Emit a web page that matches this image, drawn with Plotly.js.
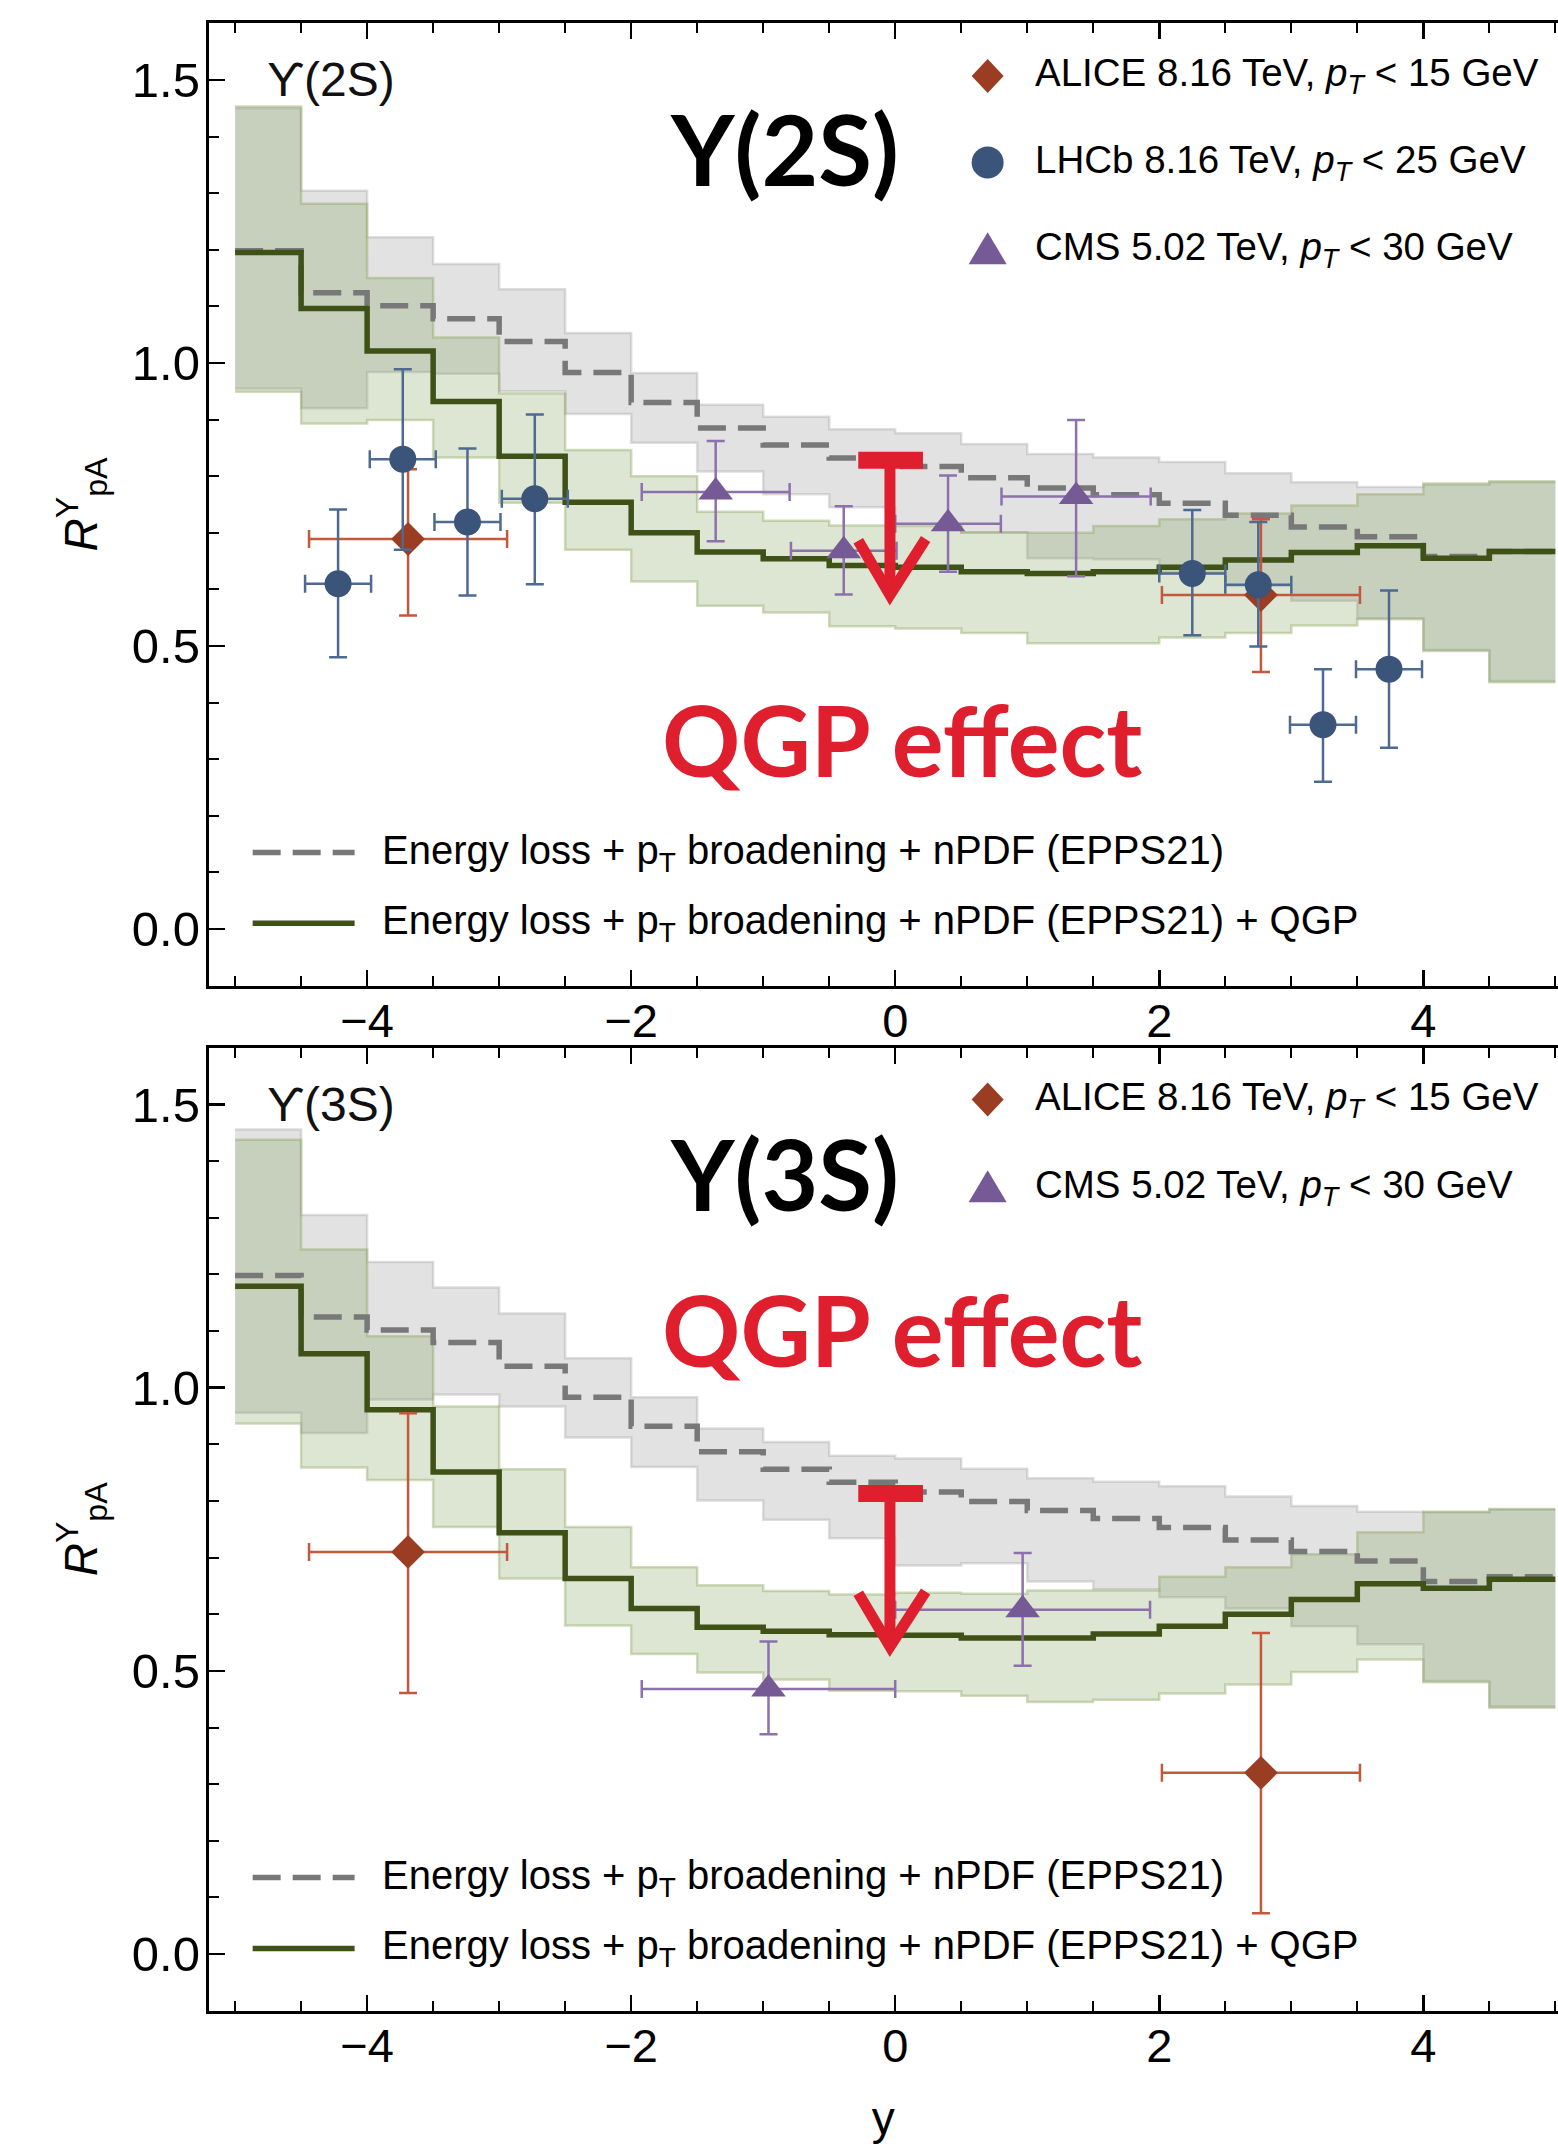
<!DOCTYPE html>
<html>
<head>
<meta charset="utf-8">
<script src="https://cdn.plot.ly/plotly-3.0.1.min.js"></script>
<style>
html,body{margin:0;padding:0;background:#fff;}
#chart{width:1558px;height:2144px;}
</style>
</head>
<body>
<div id="chart"></div>
<script>
// ---------------- DATA ----------------
// rapidity bin edges (0.5 wide)
const binEdges = [-5,-4.5,-4,-3.5,-3,-2.5,-2,-1.5,-1,-0.5,0,0.5,1,1.5,2,2.5,3,3.5,4,4.5,5];

// Upsilon(2S): Energy loss + pT broadening + nPDF (EPPS21)
const u2_base    = [1.198,1.124,1.101,1.078,1.038,0.983,0.930,0.885,0.855,0.832,0.817,0.797,0.779,0.767,0.752,0.731,0.710,0.693,0.658,0.667];
const u2_base_hi = [1.450,1.304,1.222,1.175,1.130,1.053,0.982,0.926,0.905,0.883,0.876,0.857,0.839,0.833,0.825,0.805,0.789,0.781,0.785,0.789];
const u2_base_lo = [0.955,0.920,0.984,0.981,0.950,0.910,0.859,0.808,0.768,0.745,0.715,0.700,0.655,0.653,0.630,0.606,0.580,0.549,0.493,0.438];
// Upsilon(2S): ... + QGP
const u2_qgp     = [1.195,1.096,1.021,0.932,0.835,0.754,0.700,0.666,0.654,0.642,0.639,0.631,0.628,0.631,0.639,0.652,0.665,0.677,0.655,0.667];
const u2_qgp_hi  = [1.453,1.281,1.150,1.045,0.946,0.846,0.800,0.737,0.721,0.713,0.712,0.701,0.700,0.712,0.724,0.734,0.748,0.768,0.787,0.791];
const u2_qgp_lo  = [0.949,0.893,0.899,0.833,0.753,0.670,0.614,0.571,0.559,0.535,0.531,0.523,0.505,0.505,0.515,0.523,0.536,0.547,0.491,0.436];

// Upsilon(3S): Energy loss + pT broadening + nPDF (EPPS21)
const u3_base    = [1.198,1.125,1.102,1.080,1.038,0.983,0.932,0.887,0.856,0.833,0.816,0.799,0.783,0.769,0.753,0.731,0.711,0.694,0.658,0.666];
const u3_base_hi = [1.456,1.305,1.222,1.177,1.131,1.052,0.983,0.928,0.904,0.880,0.875,0.857,0.840,0.834,0.826,0.808,0.791,0.781,0.780,0.785];
const u3_base_lo = [0.956,0.920,0.979,0.988,0.967,0.912,0.860,0.801,0.767,0.734,0.686,0.690,0.658,0.644,0.630,0.610,0.579,0.547,0.482,0.437];
// Upsilon(3S): ... + QGP
const u3_qgp     = [1.179,1.060,0.961,0.851,0.744,0.663,0.610,0.577,0.570,0.564,0.563,0.558,0.558,0.565,0.579,0.600,0.626,0.654,0.646,0.662];
const u3_qgp_hi  = [1.438,1.244,1.091,0.967,0.856,0.754,0.683,0.651,0.641,0.635,0.638,0.636,0.642,0.642,0.666,0.683,0.706,0.745,0.781,0.786];
const u3_qgp_lo  = [0.937,0.859,0.837,0.754,0.663,0.580,0.530,0.497,0.485,0.465,0.464,0.456,0.445,0.449,0.460,0.476,0.498,0.520,0.480,0.435];

// Data points, Upsilon(2S)
const alice2_x = [-3.69, 2.77];
const alice2_y = [0.689, 0.590];
const alice2_xerr = [0.75, 0.75];
const alice2_yerr_up = [0.123, 0.134];
const alice2_yerr_dn = [0.135, 0.136];

const lhcb2_x = [-4.22, -3.73, -3.24, -2.73, 2.25, 2.75, 3.24, 3.74];
const lhcb2_y = [0.610, 0.830, 0.719, 0.760, 0.628, 0.608, 0.361, 0.459];
const lhcb2_xerr = [0.25, 0.25, 0.25, 0.25, 0.25, 0.25, 0.25, 0.25];
const lhcb2_yerr_up = [0.131, 0.159, 0.130, 0.149, 0.112, 0.111, 0.098, 0.139];
const lhcb2_yerr_dn = [0.130, 0.160, 0.130, 0.151, 0.109, 0.109, 0.101, 0.139];

const cms2_x = [-1.36, -0.39, 0.40, 1.37];
const cms2_y = [0.772, 0.668, 0.716, 0.764];
const cms2_xerr = [0.56, 0.40, 0.40, 0.565];
const cms2_yerr_up = [0.090, 0.079, 0.085, 0.135];
const cms2_yerr_dn = [0.087, 0.077, 0.085, 0.141];

// Data points, Upsilon(3S)
const alice3_x = [-3.69, 2.77];
const alice3_y = [0.710, 0.320];
const alice3_xerr = [0.75, 0.75];
const alice3_yerr_up = [0.245, 0.247];
const alice3_yerr_dn = [0.249, 0.248];

const cms3_x = [-0.96, 0.965];
const cms3_y = [0.468, 0.608];
const cms3_xerr = [0.96, 0.965];
const cms3_yerr_up = [0.084, 0.100];
const cms3_yerr_dn = [0.080, 0.099];

// Labels
const legendAlice = 'ALICE 8.16 TeV, <i>p</i><sub><i>T</i></sub> &lt; 15 GeV';
const legendLhcb  = 'LHCb 8.16 TeV, <i>p</i><sub><i>T</i></sub> &lt; 25 GeV';
const legendCms   = 'CMS 5.02 TeV, <i>p</i><sub><i>T</i></sub> &lt; 30 GeV';
const legendBase  = 'Energy loss + p<sub>T</sub> broadening + nPDF (EPPS21)';
const legendQgp   = 'Energy loss + p<sub>T</sub> broadening + nPDF (EPPS21) + QGP';
const xTickVals = [-4, -2, 0, 2, 4];
const yTickVals = [0, 0.5, 1.0, 1.5];

// ---------------- STYLE ----------------
const C = {
  alice:'#9b3d23', aliceErr:'#c2583c',
  lhcb:'#3b5479', lhcbErr:'#4e6a90',
  cms:'#765a96', cmsErr:'#8c71ad',
  grayFill:'rgba(160,160,160,0.30)', grayEdge:'rgba(150,150,150,0.30)',
  greenFill:'rgba(120,150,80,0.25)', greenEdge:'rgba(140,165,90,0.40)',
  dash:'#787878', solid:'#3e5117', red:'#e01f2e'
};
const SANS = 'Liberation Sans, Arial, Helvetica, sans-serif';
const HEAVY = 'Lato, Noto Sans, sans-serif';

function stepY(v){ return v.concat([v[v.length-1]]); }

function bandTraces(lo, hi, fill, edge, xa, ya){
  return [
    {x:binEdges, y:stepY(lo), xaxis:xa, yaxis:ya, mode:'lines', line:{shape:'hv', color:edge, width:2.5},
     hoverinfo:'skip', showlegend:false},
    {x:binEdges, y:stepY(hi), xaxis:xa, yaxis:ya, mode:'lines', line:{shape:'hv', color:edge, width:2.5},
     fill:'tonexty', fillcolor:fill, hoverinfo:'skip', showlegend:false}
  ];
}
function pointTrace(name, x, y, xerr, up, dn, symbol, size, col, ecol, xa, ya){
  return {name:name, x:x, y:y, xaxis:xa, yaxis:ya, mode:'markers', showlegend:false,
    marker:{symbol:symbol, size:size, color:col, line:{width:0}},
    error_x:{type:'data', array:xerr, color:ecol, thickness:2.5, width:9},
    error_y:{type:'data', symmetric:false, array:up, arrayminus:dn, color:ecol, thickness:2.5, width:9}};
}
function panelTraces(base, bhi, blo, qgp, qhi, qlo, xa, ya){
  return [].concat(
    bandTraces(blo, bhi, C.grayFill, C.grayEdge, xa, ya),
    bandTraces(qlo, qhi, C.greenFill, C.greenEdge, xa, ya),
    [{name:'base', x:binEdges, y:stepY(base), xaxis:xa, yaxis:ya, mode:'lines', showlegend:false,
      line:{shape:'hv', color:C.dash, width:5.5, dash:'28px,12px'}},
     {name:'qgp', x:binEdges, y:stepY(qgp), xaxis:xa, yaxis:ya, mode:'lines', showlegend:false,
      line:{shape:'hv', color:C.solid, width:5.5}}]
  );
}

const traces = [].concat(
  panelTraces(u2_base, u2_base_hi, u2_base_lo, u2_qgp, u2_qgp_hi, u2_qgp_lo, 'x', 'y'),
  [pointTrace('CMS', cms2_x, cms2_y, cms2_xerr, cms2_yerr_up, cms2_yerr_dn, 'triangle-up', 30, C.cms, C.cmsErr, 'x', 'y'),
   pointTrace('ALICE', alice2_x, alice2_y, alice2_xerr, alice2_yerr_up, alice2_yerr_dn, 'diamond', 26, C.alice, C.aliceErr, 'x', 'y'),
   pointTrace('LHCb', lhcb2_x, lhcb2_y, lhcb2_xerr, lhcb2_yerr_up, lhcb2_yerr_dn, 'circle', 27, C.lhcb, C.lhcbErr, 'x', 'y')],
  panelTraces(u3_base, u3_base_hi, u3_base_lo, u3_qgp, u3_qgp_hi, u3_qgp_lo, 'x2', 'y2'),
  [pointTrace('CMS', cms3_x, cms3_y, cms3_xerr, cms3_yerr_up, cms3_yerr_dn, 'triangle-up', 30, C.cms, C.cmsErr, 'x2', 'y2'),
   pointTrace('ALICE', alice3_x, alice3_y, alice3_xerr, alice3_yerr_up, alice3_yerr_dn, 'diamond', 26, C.alice, C.aliceErr, 'x2', 'y2')]
);

// ---------------- LAYOUT ----------------
const W = 1558, H = 2144;
function xAxis(anchor, title){
  const a = {anchor:anchor, domain:[208.7/W, 1], range:[-5.2, 5.02],
    tickmode:'array', tickvals:xTickVals,
    showline:true, linecolor:'#000', linewidth:3, mirror:'ticks',
    ticks:'inside', ticklen:16, tickwidth:2.5, tickcolor:'#000',
    minor:{dtick:0.5, tick0:0, ticks:'inside', ticklen:10, tickwidth:2, tickcolor:'#000', showgrid:false},
    showgrid:false, zeroline:false, ticklabelstandoff:-8,
    tickfont:{family:SANS, size:47, color:'#000'}};
  if(title) a.title = {text:title, font:{family:SANS, size:46, color:'#000'}, standoff:46};
  return a;
}
function yAxis(anchor, domain){
  return {anchor:anchor, domain:domain, range:[-0.1, 1.6],
    tickmode:'array', tickvals:yTickVals, tickformat:'.1f',
    showline:true, linecolor:'#000', linewidth:3, mirror:false,
    ticks:'inside', ticklen:16, tickwidth:2.5, tickcolor:'#000',
    minor:{dtick:0.1, tick0:0, ticks:'inside', ticklen:10, tickwidth:2, tickcolor:'#000', showgrid:false},
    showgrid:false, zeroline:false, ticklabelstandoff:-4,
    tickfont:{family:SANS, size:49, color:'#000'},
    title:{text:'<i>R</i><sup>Υ</sup><sub>pA</sub>', font:{family:SANS, size:46, color:'#000'}, standoff:20}};
}

function panelDecor(xr, yr, bigLabel, smallLabel, showLhcb, legY){
  const ann = [];
  const shp = [];
  ann.push({xref:xr, yref:yr, x:-4.77, y:1.50, xanchor:'left', yanchor:'middle', showarrow:false,
    text:smallLabel, font:{family:SANS, size:48, color:'#111'}});
  ann.push({xref:xr, yref:yr, x:-0.84, y:1.38, xanchor:'center', yanchor:'middle', showarrow:false,
    text:bigLabel, font:{family:HEAVY, size:98, color:'#000', weight:700}});
  // marker legend
  const rows = showLhcb ? [['alice',legendAlice],['lhcb',legendLhcb],['cms',legendCms]] : [['alice',legendAlice],['cms',legendCms]];
  rows.forEach((r, i) => {
    const yy = legY[i];
    ann.push({xref:xr, yref:yr, x:1.045, y:yy, xanchor:'left', yanchor:'middle', showarrow:false,
      text:r[1], font:{family:SANS, size:38.5, color:'#000'}});
    const base = {xref:xr, yref:yr, xsizemode:'pixel', ysizemode:'pixel', xanchor:0.70, yanchor:yy, line:{width:0}};
    if(r[0]==='alice') shp.push(Object.assign({type:'path', path:'M -16,0 L 0,17 L 16,0 L 0,-17 Z', fillcolor:C.alice}, base));
    if(r[0]==='lhcb') shp.push(Object.assign({type:'circle', x0:-16, x1:16, y0:-16, y1:16, fillcolor:C.lhcb}, base));
    if(r[0]==='cms') shp.push(Object.assign({type:'path', path:'M -19,-15 L 19,-15 L 0,17 Z', fillcolor:C.cms}, base));
  });
  // line legend
  shp.push({type:'line', xref:xr, yref:yr, x0:-4.867, x1:-4.095, y0:0.135, y1:0.135, line:{color:C.dash, width:5.5, dash:'28px,12px'}});
  shp.push({type:'line', xref:xr, yref:yr, x0:-4.867, x1:-4.095, y0:0.010, y1:0.010, line:{color:C.solid, width:5.5}});
  ann.push({xref:xr, yref:yr, x:-3.90, y:0.135, xanchor:'left', yanchor:'middle', showarrow:false,
    text:legendBase, font:{family:SANS, size:40, color:'#000'}});
  ann.push({xref:xr, yref:yr, x:-3.90, y:0.010, xanchor:'left', yanchor:'middle', showarrow:false,
    text:legendQgp, font:{family:SANS, size:40, color:'#000'}});
  return {ann, shp};
}

const d1 = panelDecor('x', 'y', 'Υ(2S)', 'ϒ(2S)', true, [1.507, 1.354, 1.201]);
const d2 = panelDecor('x2', 'y2', 'Υ(3S)', 'ϒ(3S)', false, [1.509, 1.354]);

// QGP effect labels
d1.ann.push({xref:'x', yref:'y', x:0.05, y:0.335, xanchor:'center', yanchor:'middle', showarrow:false,
  text:'QGP effect', font:{family:HEAVY, size:97, color:C.red, weight:700}});
d2.ann.push({xref:'x2', yref:'y2', x:0.05, y:1.103, xanchor:'center', yanchor:'middle', showarrow:false,
  text:'QGP effect', font:{family:HEAVY, size:97, color:C.red, weight:700}});

// hand-drawn red arrows
function arrow(xr, yr, top, bot, armY){
  return [
    {type:'rect', xref:xr, yref:yr, x0:-0.28, x1:0.21, y0:top-0.03, y1:top, fillcolor:C.red, line:{width:0}},
    {type:'line', xref:xr, yref:yr, x0:-0.04, x1:-0.04, y0:top-0.02, y1:bot+0.01, line:{color:C.red, width:11}},
    {type:'path', xref:xr, yref:yr, path:`M -0.28,${armY} L -0.04,${bot} L 0.23,${armY+0.003}`, line:{color:C.red, width:11}}
  ];
}
d1.shp.push(...arrow('x', 'y', 0.843, 0.590, 0.686));
d2.shp.push(...arrow('x2', 'y2', 0.828, 0.543, 0.637));

const layout = {
  width:W, height:H,
  margin:{l:0, r:0, t:0, b:0},
  paper_bgcolor:'#fff', plot_bgcolor:'rgba(0,0,0,0)',
  showlegend:false,
  font:{family:SANS, color:'#000'},
  xaxis:xAxis('y', null),
  yaxis:yAxis('x', [1 - 985.6/H, 1 - 23.3/H]),
  xaxis2:xAxis('y2', 'y'),
  yaxis2:yAxis('x2', [1 - 2010.7/H, 1 - 1047.9/H]),
  annotations:d1.ann.concat(d2.ann),
  shapes:d1.shp.concat(d2.shp)
};

Plotly.newPlot('chart', traces, layout, {staticPlot:true, displayModeBar:false});
</script>
</body>
</html>
